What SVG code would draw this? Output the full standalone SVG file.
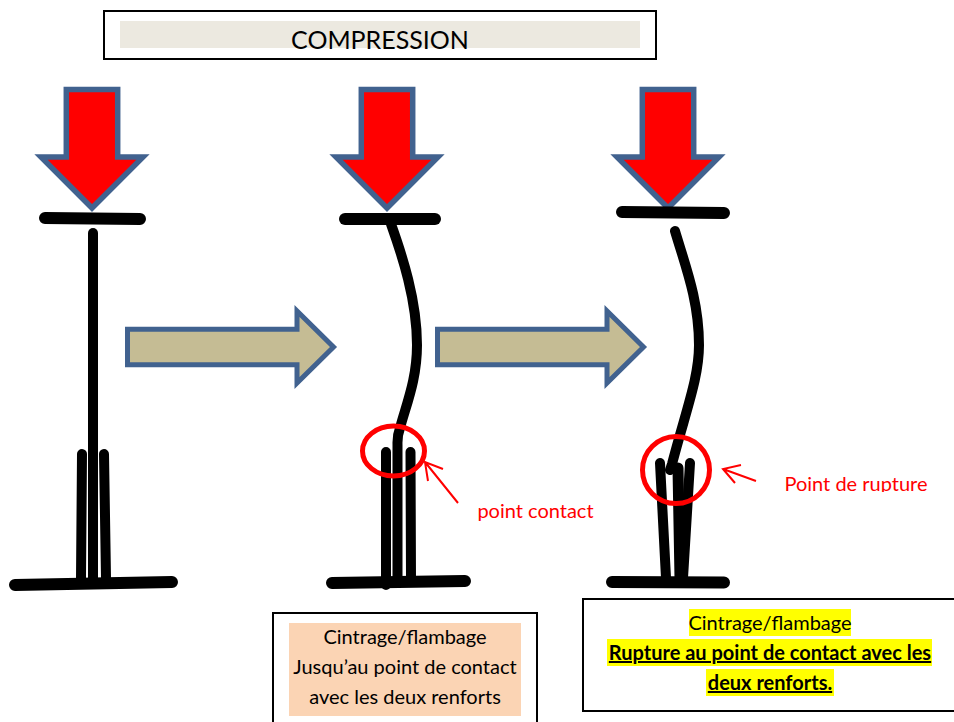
<svg xmlns="http://www.w3.org/2000/svg" width="954" height="722" viewBox="0 0 954 722">
<style>
text{font-family:Lato,"Liberation Sans",sans-serif;fill:#000;font-size:20px;text-anchor:middle}
.red{fill:#f00}
.box{fill:#fff;stroke:#000;stroke-width:2}
.force{fill:#f00;stroke:#41628f;stroke-width:5.5;stroke-linejoin:miter}
.move{fill:#c5bc94;stroke:#41628f;stroke-width:5}
.bar{fill:none;stroke:#000;stroke-width:12;stroke-linecap:round;stroke-linejoin:round}
.rod{fill:none;stroke:#000;stroke-width:10;stroke-linecap:round;stroke-linejoin:round}
.ring{fill:none;stroke:#f00;stroke-width:5}
.thin{fill:none;stroke:#f00;stroke-width:2}
</style>
<defs>
<path id="force" d="M-25.700,0H25.700V67.500H51L0,118.500L-51,67.500H-25.700Z"/>
<clipPath id="cut"><rect x="780" y="470" width="160" height="22"/></clipPath>
</defs>
<g id="title">
<rect class="box" x="104" y="11" width="552" height="48"/>
<rect x="120" y="21" width="520" height="27" fill="#ece9e0"/>
<text x="380" y="49" style="font-size:25px">COMPRESSION</text>
</g>
<g id="force-1"><use href="#force" class="force" x="92" y="89.500"/></g>
<g id="force-2"><use href="#force" class="force" x="387" y="89.500"/></g>
<g id="force-3"><use href="#force" class="force" x="668" y="89.500"/></g>
<g id="column-1">
<path class="bar" d="M45,218L140,219"/>
<path class="rod" d="M93,233V578"/>
<path class="rod" d="M82,454L81,578M104,454L106,578"/>
<path class="bar" d="M15,585L172,582"/>
</g>
<g id="column-2">
<path class="bar" d="M345,219L435,219"/>
<path class="rod" d="M391,224C402,255 417,300 417,345C417,380 406,405 400,428C397,436 397.500,440 397.500,445V578"/>
<path class="rod" d="M386,452L386,585M410.500,452L411,578"/>
<path class="bar" d="M332,583L465,581"/>
</g>
<g id="column-3">
<path class="bar" d="M622,212L724,213"/>
<path class="rod" d="M675,231C685,265 699,300 699,345C699,378 686,410 672,464L670,470"/>
<path class="rod" d="M660,463L666,578M690,463L683,578"/>
<path class="bar" d="M678,468L680,578" style="stroke-width:11"/>
<path class="bar" d="M612,582L724,582.500"/>
</g>
<g id="connectors">
<path class="move" d="M127.500,329.200H297V311L333.500,347L297,383V364.800H127.500Z"/>
<path class="move" d="M437.500,329.200H607V311L643.500,347L607,383V364.800H437.500Z"/>
</g>
<g id="contact-mark">
<ellipse class="ring" cx="393.500" cy="451" rx="31" ry="25"/>
<path class="thin" d="M458,503L425,462M443,469L425,462L428,481"/>
<text class="red" x="535.500" y="518">point contact</text>
</g>
<g id="rupture-mark">
<circle class="ring" cx="676" cy="470" r="33.500"/>
<path class="thin" d="M756,481L723,469M741,465L723,469L735,483"/>
<text class="red" x="856" y="491" clip-path="url(#cut)">Point de rupture</text>
</g>
<g id="note-1">
<rect class="box" x="273" y="613" width="264" height="115"/>
<rect x="289" y="623" width="232" height="93" fill="#fbd4b4"/>
<text x="405" y="644">Cintrage/flambage</text>
<text x="405" y="674">Jusqu’au point de contact</text>
<text x="405" y="704">avec les deux renforts</text>
</g>
<g id="note-2">
<rect class="box" x="583" y="599" width="375" height="112"/>
<rect x="689" y="609" width="162" height="27" fill="#ff0"/>
<rect x="607" y="639" width="325" height="27" fill="#ff0"/>
<rect x="706" y="669" width="128" height="27" fill="#ff0"/>
<text x="770" y="630">Cintrage/flambage</text>
<text x="770" y="660" font-weight="700" text-decoration="underline">Rupture au point de contact avec les</text>
<text x="770" y="690" font-weight="700" text-decoration="underline">deux renforts.</text>
</g>
</svg>
